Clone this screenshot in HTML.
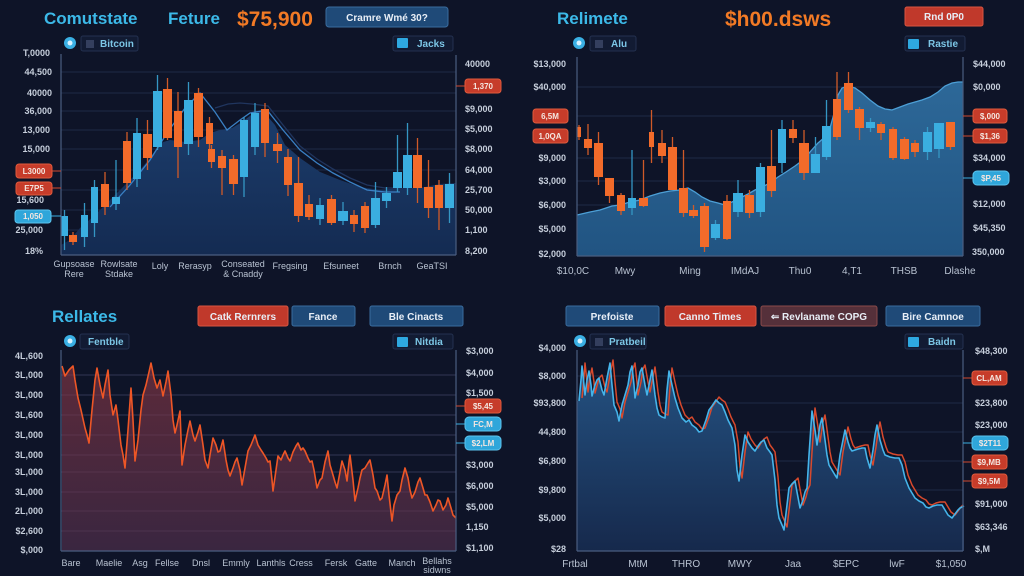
<!DOCTYPE html>
<html><head><meta charset="utf-8"><style>
html,body{margin:0;padding:0;background:#0e1428;}
svg{display:block;}
text{font-family:"Liberation Sans",sans-serif;}
.tk{font-size:9px;fill:#c6cedb;font-weight:bold;}
.xl{font-size:9px;fill:#b9c3d2;}
.pt{font-size:8px;fill:#f4e6e0;font-weight:bold;}
.bt{font-size:10px;fill:#e8eef6;font-weight:bold;}
.lg{font-size:10px;fill:#7cc6e6;font-weight:bold;}
.ttl{font-size:17px;font-weight:bold;fill:#3cb9e8;}
.big{font-size:21px;font-weight:bold;fill:#f27a25;}
.grid line{stroke:#1e2a46;stroke-width:1;}
.grid2 line{stroke:rgba(150,110,150,0.18);stroke-width:1;}
.co rect{fill:#f26b2a;} .co line{stroke:#d05a28;stroke-width:1.3;}
.cc rect{fill:#3aaee0;} .cc line{stroke:#3596c4;stroke-width:1.3;}
</style></head><body>
<svg width="1024" height="576" viewBox="0 0 1024 576" xmlns="http://www.w3.org/2000/svg">
<defs>
<linearGradient id="gTL" x1="0" y1="0" x2="0" y2="1"><stop offset="0" stop-color="#1c3d6c"/><stop offset="1" stop-color="#142b52"/></linearGradient>
<linearGradient id="gTR" x1="0" y1="0" x2="0" y2="1"><stop offset="0" stop-color="#2d6898"/><stop offset="1" stop-color="#215482"/></linearGradient>
<linearGradient id="gBL" x1="0" y1="0" x2="0" y2="1"><stop offset="0" stop-color="#5c2a3a"/><stop offset="1" stop-color="#3a2640"/></linearGradient>
<linearGradient id="gBR" x1="0" y1="0" x2="0" y2="1"><stop offset="0" stop-color="#245282"/><stop offset="1" stop-color="#16294c"/></linearGradient>
</defs>
<rect width="1024" height="576" fill="#0e1428"/>

<!-- ================= TOP LEFT ================= -->
<text x="44" y="24" class="ttl">Comutstate</text>
<text x="168" y="24" class="ttl">Feture</text>
<text x="237" y="26" class="big">$75,900</text>
<rect x="326" y="7" width="122" height="20" rx="3" fill="#1f4a78" stroke="#3a6c9e"/>
<text x="387" y="21" class="bt" text-anchor="middle">Cramre Wmé 30?</text>

<circle cx="70" cy="43" r="6" fill="#3ab0e4"/><circle cx="70" cy="43" r="2.5" fill="#d8f2ff"/>
<rect x="81" y="36" width="57" height="15" rx="2" fill="#121b33" stroke="#243150"/>
<rect x="86" y="40" width="8" height="8" fill="#343f5e"/>
<text x="100" y="47" class="lg">Bitcoin</text>
<rect x="393" y="36" width="60" height="15" rx="2" fill="#121b33" stroke="#243150"/>
<rect x="397" y="38" width="11" height="10" rx="1" fill="#2ea8e0"/>
<text x="417" y="47" class="lg">Jacks</text>

<g class="grid">
<line x1="61" y1="72" x2="456" y2="72"/><line x1="61" y1="93" x2="456" y2="93"/><line x1="61" y1="111" x2="456" y2="111"/>
<line x1="61" y1="130" x2="456" y2="130"/><line x1="61" y1="149" x2="456" y2="149"/><line x1="61" y1="170" x2="456" y2="170"/>
<line x1="61" y1="190" x2="456" y2="190"/><line x1="61" y1="210" x2="456" y2="210"/><line x1="61" y1="230" x2="456" y2="230"/>
</g>
<polygon fill="url(#gTL)" points="61,245 70,240 80,228 95,215 110,200 120,190 130,180 140,170 150,158 160,143 170,140 185,142 200,140 210,133 220,130 232,128 242,122 255,112 262,110 275,125 285,145 300,158 320,172 340,180 360,187 380,190 400,188 420,188 440,184 456,183 456,255 61,255"/>
<polyline fill="none" stroke="#3a80c4" stroke-width="1.3" points="110,207 130,185 150,160 167,133 185,108 200,93 215,112 227,130 240,120 250,113 267,110 283,130 300,150 317,163 333,173 350,182 367,190 385,192 400,192"/>
<polyline fill="none" stroke="#20355e" stroke-width="1.3" points="215,108 228,104 240,103 252,104 268,106 283,125 300,146 317,159 333,169 350,178 367,185 385,188 400,188"/>

<g class="cc">
<line x1="64.5" y1="210" x2="64.5" y2="250"/><rect x="61" y="216" width="7" height="20"/>
<line x1="84.5" y1="203" x2="84.5" y2="247"/><rect x="81" y="215" width="7" height="22"/>
<line x1="94.5" y1="180" x2="94.5" y2="237"/><rect x="91" y="187" width="7" height="36"/>
<line x1="116" y1="160" x2="116" y2="210"/><rect x="112" y="197" width="8" height="7"/>
<line x1="137" y1="118" x2="137" y2="187"/><rect x="133" y="133" width="8" height="46"/>
<line x1="157.5" y1="75" x2="157.5" y2="150"/><rect x="153" y="91" width="9" height="56"/>
<line x1="188.5" y1="82" x2="188.5" y2="155"/><rect x="184" y="100" width="9" height="44"/>
<line x1="244" y1="117" x2="244" y2="197"/><rect x="240" y="120" width="8" height="57"/>
<line x1="255" y1="103" x2="255" y2="155"/><rect x="251" y="113" width="8" height="34"/>
<line x1="320" y1="198" x2="320" y2="225"/><rect x="316" y="205" width="8" height="14"/>
<line x1="343" y1="202" x2="343" y2="225"/><rect x="338" y="211" width="10" height="10"/>
<line x1="375.5" y1="182" x2="375.5" y2="228"/><rect x="371" y="198" width="9" height="27"/>
<line x1="386.5" y1="187" x2="386.5" y2="208"/><rect x="382" y="193" width="9" height="8"/>
<line x1="397.5" y1="135" x2="397.5" y2="192"/><rect x="393" y="172" width="9" height="16"/>
<line x1="407.5" y1="123" x2="407.5" y2="195"/><rect x="403" y="155" width="9" height="33"/>
<line x1="449.5" y1="173" x2="449.5" y2="223"/><rect x="445" y="184" width="9" height="24"/>
</g>
<g class="co">
<line x1="73" y1="232" x2="73" y2="245"/><rect x="69" y="235" width="8" height="7"/>
<line x1="105" y1="172" x2="105" y2="215"/><rect x="101" y="184" width="8" height="23"/>
<line x1="127" y1="132" x2="127" y2="190"/><rect x="123" y="141" width="8" height="42"/>
<line x1="147.5" y1="120" x2="147.5" y2="170"/><rect x="143" y="134" width="9" height="24"/>
<line x1="167.5" y1="78" x2="167.5" y2="140"/><rect x="163" y="89" width="9" height="49"/>
<line x1="178" y1="92" x2="178" y2="178"/><rect x="174" y="111" width="8" height="36"/>
<line x1="198.5" y1="88" x2="198.5" y2="147"/><rect x="194" y="93" width="9" height="44"/>
<line x1="209.5" y1="117" x2="209.5" y2="152"/><rect x="206" y="123" width="7" height="21"/>
<line x1="211.5" y1="145" x2="211.5" y2="168"/><rect x="208" y="149" width="7" height="13"/>
<line x1="222" y1="150" x2="222" y2="195"/><rect x="218" y="156" width="8" height="12"/>
<line x1="233.5" y1="155" x2="233.5" y2="195"/><rect x="229" y="159" width="9" height="25"/>
<line x1="265" y1="103" x2="265" y2="157"/><rect x="261" y="109" width="8" height="34"/>
<line x1="277.5" y1="133" x2="277.5" y2="163"/><rect x="273" y="144" width="9" height="7"/>
<line x1="288" y1="149" x2="288" y2="196"/><rect x="284" y="157" width="8" height="28"/>
<line x1="298.5" y1="157" x2="298.5" y2="222"/><rect x="294" y="183" width="9" height="33"/>
<line x1="309" y1="195" x2="309" y2="220"/><rect x="305" y="204" width="8" height="13"/>
<line x1="331.5" y1="195" x2="331.5" y2="225"/><rect x="327" y="199" width="9" height="24"/>
<line x1="354" y1="210" x2="354" y2="232"/><rect x="350" y="215" width="8" height="9"/>
<line x1="365" y1="202" x2="365" y2="233"/><rect x="361" y="206" width="8" height="22"/>
<line x1="417.5" y1="138" x2="417.5" y2="203"/><rect x="413" y="155" width="9" height="33"/>
<line x1="428.5" y1="160" x2="428.5" y2="218"/><rect x="424" y="187" width="9" height="21"/>
<line x1="439" y1="180" x2="439" y2="230"/><rect x="435" y="185" width="8" height="23"/>
</g>

<g stroke="#4a5d80" stroke-width="1.2">
<line x1="61" y1="54" x2="61" y2="255"/><line x1="61" y1="255" x2="456" y2="255"/><line x1="456" y1="55" x2="456" y2="255"/>
</g>
<g class="tk" text-anchor="end">
<text x="50" y="56">T,0000</text><text x="52" y="75">44,500</text><text x="52" y="96">40000</text>
<text x="52" y="114">36,000</text><text x="50" y="133">13,000</text><text x="50" y="152">15,000</text>
<text x="44" y="203">15,600</text><text x="43" y="233">25,000</text><text x="43" y="254">18%</text>
</g>
<g class="tk">
<text x="465" y="67">40000</text><text x="465" y="112">$9,000</text><text x="465" y="132">$5,000</text>
<text x="465" y="152">$8,000</text><text x="465" y="173">64,000</text><text x="465" y="193">25,700</text>
<text x="465" y="213">50,000</text><text x="465" y="233">1,100</text><text x="465" y="254">8,200</text>
</g>
<line x1="52" y1="171" x2="61" y2="171" stroke="#d24a30"/><rect x="16" y="164" width="36" height="14" rx="3" fill="#c63c2a" stroke="#e05a3c"/><text x="34" y="174" class="pt" text-anchor="middle">L3000</text>
<line x1="52" y1="188" x2="61" y2="188" stroke="#d24a30"/><rect x="16" y="182" width="36" height="13" rx="3" fill="#c63c2a" stroke="#e05a3c"/><text x="34" y="191" class="pt" text-anchor="middle">E7P5</text>
<line x1="51" y1="216" x2="61" y2="216" stroke="#3aaee0"/><rect x="15" y="210" width="36" height="13" rx="3" fill="#2fa6da" stroke="#5cc4ee"/><text x="33" y="219" class="pt" text-anchor="middle">1,050</text>
<line x1="456" y1="86" x2="465" y2="86" stroke="#d24a30"/><rect x="465" y="79" width="36" height="14" rx="3" fill="#c63c2a" stroke="#e05a3c"/><text x="483" y="89" class="pt" text-anchor="middle">1,370</text>
<g class="xl" text-anchor="middle">
<text x="74" y="267">Gupsoase</text><text x="74" y="277">Rere</text>
<text x="119" y="267">Rowlsate</text><text x="119" y="277">Stdake</text>
<text x="160" y="269">Loly</text><text x="195" y="269">Rerasyp</text>
<text x="243" y="267">Conseated</text><text x="243" y="277">&amp; Cnaddy</text>
<text x="290" y="269">Fregsing</text><text x="341" y="269">Efsuneet</text>
<text x="390" y="269">Brnch</text><text x="432" y="269">GeaTSI</text>
</g>

<!-- ================= TOP RIGHT ================= -->
<text x="557" y="24" class="ttl">Relimete</text>
<text x="725" y="26" class="big">$h00.dsws</text>
<rect x="905" y="7" width="78" height="19" rx="2" fill="#c0392b" stroke="#d85540"/>
<text x="944" y="20" class="bt" text-anchor="middle">Rnd 0P0</text>
<circle cx="579" cy="43" r="6" fill="#3ab0e4"/><circle cx="579" cy="43" r="2.5" fill="#d8f2ff"/>
<rect x="590" y="36" width="46" height="15" rx="2" fill="#121b33" stroke="#243150"/>
<rect x="595" y="40" width="8" height="8" fill="#343f5e"/>
<text x="611" y="47" class="lg">Alu</text>
<rect x="905" y="36" width="60" height="15" rx="2" fill="#121b33" stroke="#243150"/>
<rect x="908" y="39" width="11" height="10" rx="1" fill="#2ea8e0"/>
<text x="928" y="47" class="lg">Rastie</text>

<g class="grid">
<line x1="577" y1="87" x2="963" y2="87"/><line x1="577" y1="116" x2="963" y2="116"/><line x1="577" y1="158" x2="963" y2="158"/>
<line x1="577" y1="181" x2="963" y2="181"/><line x1="577" y1="205" x2="963" y2="205"/><line x1="577" y1="229" x2="963" y2="229"/>
</g>
<polygon fill="url(#gTR)" points="577,215 590,212 600,210 612,206 620,205 630,202 640,200 650,196 660,193 670,191 680,190 688,188 695,192 702,197 710,201 718,203 725,205 732,202 740,198 748,194 755,190 762,187 770,183 778,177 786,172 795,166 803,160 810,152 818,143 825,137 830,128 835,110 838,95 842,88 848,86 855,88 862,93 870,100 878,106 885,109 892,110 900,107 908,104 915,102 922,100 930,97 938,92 945,86 952,83 958,82 963,82 963,256 577,256"/>
<polyline fill="none" stroke="#4c9fd6" stroke-width="1.3" points="577,215 590,212 600,210 612,206 620,205 630,202 640,200 650,196 660,193 670,191 680,190 688,188 695,192 702,197 710,201 718,203 725,205 732,202 740,198 748,194 755,190 762,187 770,183 778,177 786,172 795,166 803,160 810,152 818,143 825,137 830,128 835,110 838,95 842,88 848,86 855,88 862,93 870,100 878,106 885,109 892,110 900,107 908,104 915,102 922,100 930,97 938,92 945,86 952,83 958,82 963,82"/>
<g class="co">
<line x1="579" y1="125" x2="579" y2="140"/><rect x="577" y="127" width="4" height="10"/>
<line x1="588" y1="124" x2="588" y2="155"/><rect x="584" y="139" width="8" height="9"/>
<line x1="598.5" y1="132" x2="598.5" y2="185"/><rect x="594" y="143" width="9" height="34"/>
<line x1="609.5" y1="178" x2="609.5" y2="203"/><rect x="605" y="178" width="9" height="18"/>
<line x1="621" y1="193" x2="621" y2="215"/><rect x="617" y="195" width="8" height="16"/>
<line x1="643.5" y1="160" x2="643.5" y2="207"/><rect x="639" y="198" width="9" height="8"/>
<line x1="651.5" y1="110" x2="651.5" y2="163"/><rect x="649" y="132" width="5" height="15"/>
<line x1="662" y1="130" x2="662" y2="163"/><rect x="658" y="143" width="8" height="13"/>
<line x1="672.5" y1="137" x2="672.5" y2="190"/><rect x="668" y="147" width="9" height="43"/>
<line x1="683.5" y1="150" x2="683.5" y2="217"/><rect x="679" y="188" width="9" height="25"/>
<line x1="693.5" y1="205" x2="693.5" y2="218"/><rect x="689" y="210" width="9" height="6"/>
<line x1="704.5" y1="203" x2="704.5" y2="252"/><rect x="700" y="206" width="9" height="41"/>
<line x1="727" y1="195" x2="727" y2="240"/><rect x="723" y="201" width="8" height="38"/>
<line x1="749.5" y1="190" x2="749.5" y2="218"/><rect x="745" y="195" width="9" height="18"/>
<line x1="771.5" y1="130" x2="771.5" y2="197"/><rect x="767" y="166" width="9" height="25"/>
<line x1="793" y1="120" x2="793" y2="143"/><rect x="789" y="129" width="8" height="9"/>
<line x1="804" y1="130" x2="804" y2="180"/><rect x="799" y="143" width="10" height="30"/>
<line x1="837" y1="72" x2="837" y2="140"/><rect x="833" y="99" width="8" height="38"/>
<line x1="848.5" y1="72" x2="848.5" y2="113"/><rect x="844" y="83" width="9" height="27"/>
<line x1="859.5" y1="107" x2="859.5" y2="140"/><rect x="855" y="109" width="9" height="19"/>
<line x1="881" y1="122" x2="881" y2="140"/><rect x="877" y="124" width="8" height="9"/>
<line x1="893" y1="127" x2="893" y2="160"/><rect x="889" y="129" width="8" height="29"/>
<line x1="904.5" y1="137" x2="904.5" y2="160"/><rect x="900" y="139" width="9" height="20"/>
<line x1="915" y1="140" x2="915" y2="157"/><rect x="911" y="143" width="8" height="9"/>
<line x1="950.5" y1="122" x2="950.5" y2="150"/><rect x="946" y="122" width="9" height="25"/>
</g>
<g class="cc">
<line x1="632" y1="150" x2="632" y2="215"/><rect x="628" y="198" width="8" height="10"/>
<line x1="715.5" y1="220" x2="715.5" y2="240"/><rect x="711" y="224" width="9" height="14"/>
<line x1="738" y1="180" x2="738" y2="217"/><rect x="733" y="193" width="10" height="19"/>
<line x1="760.5" y1="163" x2="760.5" y2="217"/><rect x="756" y="167" width="9" height="45"/>
<line x1="782" y1="120" x2="782" y2="173"/><rect x="778" y="129" width="8" height="34"/>
<line x1="815.5" y1="137" x2="815.5" y2="173"/><rect x="811" y="154" width="9" height="19"/>
<line x1="826.5" y1="100" x2="826.5" y2="160"/><rect x="822" y="126" width="9" height="31"/>
<line x1="870.5" y1="118" x2="870.5" y2="132"/><rect x="866" y="122" width="9" height="6"/>
<line x1="927.5" y1="127" x2="927.5" y2="160"/><rect x="923" y="132" width="9" height="20"/>
<line x1="939" y1="123" x2="939" y2="158"/><rect x="934" y="123" width="10" height="26"/>
</g>
<g stroke="#4a5d80" stroke-width="1.2">
<line x1="577" y1="57" x2="577" y2="256"/><line x1="577" y1="256" x2="963" y2="256"/><line x1="963" y1="57" x2="963" y2="256"/>
</g>
<g class="tk" text-anchor="end">
<text x="566" y="67">$13,000</text><text x="566" y="90">$40,000</text><text x="566" y="161">$9,000</text>
<text x="566" y="184">$3,000</text><text x="566" y="208">$6,000</text><text x="566" y="232">$5,000</text><text x="566" y="257">$2,000</text>
</g>
<g class="tk">
<text x="973" y="67">$44,000</text><text x="973" y="90">$0,000</text><text x="973" y="161">$34,000</text>
<text x="973" y="207">$12,000</text><text x="973" y="231">$45,350</text><text x="972" y="255">350,000</text>
</g>
<rect x="533" y="109" width="35" height="14" rx="3" fill="#c63c2a" stroke="#e05a3c"/><text x="550" y="119" class="pt" text-anchor="middle">6,5M</text>
<rect x="533" y="129" width="35" height="14" rx="3" fill="#c63c2a" stroke="#e05a3c"/><text x="550" y="139" class="pt" text-anchor="middle">1,0QA</text>
<line x1="963" y1="116" x2="973" y2="116" stroke="#d24a30"/><rect x="973" y="109" width="34" height="14" rx="3" fill="#c63c2a" stroke="#e05a3c"/><text x="990" y="119" class="pt" text-anchor="middle">$,000</text>
<line x1="963" y1="136" x2="973" y2="136" stroke="#d24a30"/><rect x="973" y="129" width="34" height="14" rx="3" fill="#c63c2a" stroke="#e05a3c"/><text x="990" y="139" class="pt" text-anchor="middle">$1,36</text>
<line x1="963" y1="178" x2="973" y2="178" stroke="#3aaee0"/><rect x="973" y="171" width="36" height="14" rx="4" fill="#2fa6da" stroke="#5cc4ee"/><text x="991" y="181" class="pt" text-anchor="middle">$P,45</text>
<g class="xl" text-anchor="middle" style="font-size:10px">
<text x="573" y="274">$10,0C</text><text x="625" y="274">Mwy</text><text x="690" y="274">Ming</text><text x="745" y="274">IMdAJ</text>
<text x="800" y="274">Thu0</text><text x="852" y="274">4,T1</text><text x="904" y="274">THSB</text><text x="960" y="274">Dlashe</text>
</g>

<!-- ================= BOTTOM LEFT ================= -->
<text x="52" y="322" class="ttl">Rellates</text>
<rect x="198" y="306" width="90" height="20" rx="2" fill="#c0392b" stroke="#d85540"/><text x="243" y="320" class="bt" text-anchor="middle">Catk Rernrers</text>
<rect x="292" y="306" width="63" height="20" rx="2" fill="#1f4a78" stroke="#3a6c9e"/><text x="323" y="320" class="bt" text-anchor="middle">Fance</text>
<rect x="370" y="306" width="93" height="20" rx="2" fill="#1f4a78" stroke="#3a6c9e"/><text x="416" y="320" class="bt" text-anchor="middle">Ble Cinacts</text>
<circle cx="70" cy="341" r="6" fill="#3ab0e4"/><circle cx="70" cy="341" r="2.5" fill="#d8f2ff"/>
<rect x="80" y="334" width="49" height="15" rx="2" fill="#121b33" stroke="#243150"/>
<text x="88" y="345" class="lg">Fentble</text>
<rect x="393" y="334" width="60" height="15" rx="2" fill="#121b33" stroke="#243150"/>
<rect x="397" y="337" width="11" height="10" rx="1" fill="#2ea8e0"/>
<text x="415" y="345" class="lg">Nitdia</text>
<g class="grid">
<line x1="61" y1="375" x2="456" y2="375"/><line x1="61" y1="395" x2="456" y2="395"/><line x1="61" y1="415" x2="456" y2="415"/>
<line x1="61" y1="435" x2="456" y2="435"/><line x1="61" y1="455" x2="456" y2="455"/><line x1="61" y1="472" x2="456" y2="472"/>
<line x1="61" y1="492" x2="456" y2="492"/><line x1="61" y1="511" x2="456" y2="511"/><line x1="61" y1="531" x2="456" y2="531"/>
</g>
<polygon fill="url(#gBL)" points="62,366 65,376 69,370 73,366 75,380 78,398 81,410 85,428 87,435 89,443 92,410 95,380 97,368 100,385 103,398 105,385 108,370 110,395 113,415 116,405 118,420 121,445 123,455 125,468 128,430 131,388 133,420 135,461 138,440 141,410 143,395 146,385 149,372 151,363 154,378 157,388 160,380 163,396 166,382 168,371 171,395 173,420 175,433 177,425 180,411 182,465 185,445 188,430 190,421 193,435 195,441 198,432 200,425 203,445 205,460 208,468 210,455 213,438 216,445 218,452 220,451 223,440 226,460 228,470 230,476 233,468 235,462 237,458 240,470 242,485 245,468 248,451 251,445 253,440 255,435 258,445 261,450 263,453 266,458 268,462 270,461 272,480 273,491 276,470 278,456 281,460 283,455 285,451 288,458 290,461 293,452 296,446 298,443 301,450 303,448 305,451 308,458 310,462 312,461 314,470 317,488 320,480 322,478 325,462 328,451 330,465 333,475 335,482 337,488 340,472 342,461 345,470 347,481 349,462 350,455 353,480 355,501 358,488 360,478 362,470 365,468 368,463 370,460 373,475 375,488 377,491 380,500 382,498 385,485 387,475 389,495 392,521 394,505 397,495 400,491 402,480 405,468 408,478 410,490 412,498 415,492 418,482 420,478 423,488 425,495 427,495 430,502 433,511 436,505 438,500 440,501 443,510 446,505 448,498 451,508 453,515 456,518 456,551 62,551"/>
<g class="grid2">
<line x1="61" y1="375" x2="456" y2="375"/><line x1="61" y1="395" x2="456" y2="395"/><line x1="61" y1="415" x2="456" y2="415"/>
<line x1="61" y1="435" x2="456" y2="435"/><line x1="61" y1="455" x2="456" y2="455"/><line x1="61" y1="472" x2="456" y2="472"/>
<line x1="61" y1="492" x2="456" y2="492"/><line x1="61" y1="511" x2="456" y2="511"/><line x1="61" y1="531" x2="456" y2="531"/>
</g>
<polyline fill="none" stroke="#ee5626" stroke-width="1.6" stroke-linejoin="round" points="62,366 65,376 69,370 73,366 75,380 78,398 81,410 85,428 87,435 89,443 92,410 95,380 97,368 100,385 103,398 105,385 108,370 110,395 113,415 116,405 118,420 121,445 123,455 125,468 128,430 131,388 133,420 135,461 138,440 141,410 143,395 146,385 149,372 151,363 154,378 157,388 160,380 163,396 166,382 168,371 171,395 173,420 175,433 177,425 180,411 182,465 185,445 188,430 190,421 193,435 195,441 198,432 200,425 203,445 205,460 208,468 210,455 213,438 216,445 218,452 220,451 223,440 226,460 228,470 230,476 233,468 235,462 237,458 240,470 242,485 245,468 248,451 251,445 253,440 255,435 258,445 261,450 263,453 266,458 268,462 270,461 272,480 273,491 276,470 278,456 281,460 283,455 285,451 288,458 290,461 293,452 296,446 298,443 301,450 303,448 305,451 308,458 310,462 312,461 314,470 317,488 320,480 322,478 325,462 328,451 330,465 333,475 335,482 337,488 340,472 342,461 345,470 347,481 349,462 350,455 353,480 355,501 358,488 360,478 362,470 365,468 368,463 370,460 373,475 375,488 377,491 380,500 382,498 385,485 387,475 389,495 392,521 394,505 397,495 400,491 402,480 405,468 408,478 410,490 412,498 415,492 418,482 420,478 423,488 425,495 427,495 430,502 433,511 436,505 438,500 440,501 443,510 446,505 448,498 451,508 453,515 456,518"/>
<g stroke="#4a5d80" stroke-width="1.2">
<line x1="61" y1="350" x2="61" y2="551"/><line x1="61" y1="551" x2="456" y2="551"/><line x1="456" y1="350" x2="456" y2="551"/>
</g>
<g class="tk" text-anchor="end">
<text x="43" y="359">4L,600</text><text x="43" y="378">3L,000</text><text x="43" y="398">3L,000</text><text x="43" y="418">3L,600</text>
<text x="43" y="438">3L,000</text><text x="43" y="458">3L,000</text><text x="43" y="475">3L,000</text><text x="43" y="495">3L,000</text>
<text x="43" y="514">2L,000</text><text x="43" y="534">$2,600</text><text x="43" y="553">$,000</text>
</g>
<g class="tk">
<text x="466" y="354">$3,000</text><text x="466" y="376">$4,000</text><text x="466" y="396">$1,500</text>
<text x="466" y="468">$3,000</text><text x="466" y="489">$6,000</text><text x="466" y="510">$5,000</text>
<text x="466" y="530">1,150</text><text x="466" y="551">$1,100</text>
</g>
<line x1="456" y1="406" x2="465" y2="406" stroke="#d24a30"/><rect x="465" y="399" width="36" height="14" rx="3" fill="#c63c2a" stroke="#e05a3c"/><text x="483" y="409" class="pt" text-anchor="middle">$5,45</text>
<line x1="456" y1="424" x2="465" y2="424" stroke="#3aaee0"/><rect x="465" y="417" width="36" height="14" rx="4" fill="#2fa6da" stroke="#5cc4ee"/><text x="483" y="427" class="pt" text-anchor="middle">FC,M</text>
<line x1="456" y1="443" x2="465" y2="443" stroke="#3aaee0"/><rect x="465" y="436" width="36" height="14" rx="4" fill="#2fa6da" stroke="#5cc4ee"/><text x="483" y="446" class="pt" text-anchor="middle">$2,LM</text>
<g class="xl" text-anchor="middle">
<text x="71" y="566">Bare</text><text x="109" y="566">Maelie</text><text x="140" y="566">Asg</text><text x="167" y="566">Fellse</text>
<text x="201" y="566">Dnsl</text><text x="236" y="566">Emmly</text><text x="271" y="566">Lanthls</text><text x="301" y="566">Cress</text>
<text x="336" y="566">Fersk</text><text x="366" y="566">Gatte</text><text x="402" y="566">Manch</text><text x="437" y="564">Bellahs</text><text x="437" y="573">sidwns</text>
</g>

<!-- ================= BOTTOM RIGHT ================= -->
<rect x="566" y="306" width="93" height="20" rx="2" fill="#1f4a78" stroke="#3a6c9e"/><text x="612" y="320" class="bt" text-anchor="middle">Prefoiste</text>
<rect x="665" y="306" width="91" height="20" rx="2" fill="#c0392b" stroke="#d85540"/><text x="710" y="320" class="bt" text-anchor="middle">Canno Times</text>
<rect x="761" y="306" width="116" height="20" rx="2" fill="#55303a" stroke="#8a4a4a"/><text x="819" y="320" class="bt" text-anchor="middle">⇐ Revlaname COPG</text>
<rect x="886" y="306" width="94" height="20" rx="2" fill="#1f4a78" stroke="#3a6c9e"/><text x="933" y="320" class="bt" text-anchor="middle">Bire Camnoe</text>
<circle cx="580" cy="341" r="6" fill="#3ab0e4"/><circle cx="580" cy="341" r="2.5" fill="#d8f2ff"/>
<rect x="590" y="334" width="56" height="15" rx="2" fill="#121b33" stroke="#243150"/>
<rect x="595" y="338" width="8" height="8" fill="#343f5e"/>
<text x="609" y="345" class="lg">Pratbeil</text>
<rect x="905" y="334" width="58" height="15" rx="2" fill="#121b33" stroke="#243150"/>
<rect x="908" y="337" width="11" height="10" rx="1" fill="#2ea8e0"/>
<text x="928" y="345" class="lg">Baidn</text>
<g class="grid">
<line x1="577" y1="376" x2="963" y2="376"/><line x1="577" y1="403" x2="963" y2="403"/><line x1="577" y1="432" x2="963" y2="432"/>
<line x1="577" y1="461" x2="963" y2="461"/><line x1="577" y1="490" x2="963" y2="490"/><line x1="577" y1="518" x2="963" y2="518"/>
</g>
<polygon fill="url(#gBR)" points="579,401 581,380 582,366 584,385 585,395 587,380 589,371 591,385 592,396 595,385 597,380 599,378 602,390 604,395 607,378 610,363 612,385 614,405 617,412 619,421 622,405 625,395 628,385 630,372 632,366 634,385 635,398 638,385 640,372 642,368 645,385 647,395 650,380 652,370 655,395 657,408 659,415 662,417 665,418 667,390 669,371 672,385 675,398 678,408 682,418 686,422 689,420 692,425 696,428 699,432 702,431 706,420 709,410 712,406 716,400 719,403 722,405 725,412 728,420 732,428 735,445 737,470 739,481 742,455 745,435 748,442 752,448 755,451 758,446 761,442 764,440 767,448 770,452 772,455 775,480 777,505 779,518 782,525 784,530 787,505 789,488 792,484 795,481 797,492 800,508 803,500 805,492 807,488 809,455 812,411 815,430 817,445 820,425 822,418 825,440 827,455 829,465 832,470 835,475 837,478 840,455 843,440 845,430 848,442 850,448 852,451 855,450 858,449 862,448 865,448 867,458 870,468 873,450 875,435 877,425 880,440 883,450 885,455 890,457 895,458 899,458 902,465 905,478 909,488 912,493 915,498 919,501 923,503 926,507 929,508 933,506 937,505 942,505 945,510 948,515 952,518 955,514 958,510 960,508 964,506 964,551 577,551 577,401"/>
<polyline transform="translate(3,-3)" fill="none" stroke="#d8492c" stroke-width="1.5" stroke-linejoin="round" points="579,401 581,380 582,366 584,385 585,395 587,380 589,371 591,385 592,396 595,385 597,380 599,378 602,390 604,395 607,378 610,363 612,385 614,405 617,412 619,421 622,405 625,395 628,385 630,372 632,366 634,385 635,398 638,385 640,372 642,368 645,385 647,395 650,380 652,370 655,395 657,408 659,415 662,417 665,418 667,390 669,371 672,385 675,398 678,408 682,418 686,422 689,420 692,425 696,428 699,432 702,431 706,420 709,410 712,406 716,400 719,403 722,405 725,412 728,420 732,428 735,445 737,470 739,481 742,455 745,435 748,442 752,448 755,451 758,446 761,442 764,440 767,448 770,452 772,455 775,480 777,505 779,518 782,525 784,530 787,505 789,488 792,484 795,481 797,492 800,508 803,500 805,492 807,488 809,455 812,411 815,430 817,445 820,425 822,418 825,440 827,455 829,465 832,470 835,475 837,478 840,455 843,440 845,430 848,442 850,448 852,451 855,450 858,449 862,448 865,448 867,458 870,468 873,450 875,435 877,425 880,440 883,450 885,455 890,457 895,458 899,458 902,465 905,478 909,488 912,493 915,498 919,501 923,503 926,507 929,508 933,506 937,505 942,505 945,510 948,515 952,518 955,514 958,510 960,508"/>
<polyline fill="none" stroke="#45b4ea" stroke-width="1.6" stroke-linejoin="round" points="579,401 581,380 582,366 584,385 585,395 587,380 589,371 591,385 592,396 595,385 597,380 599,378 602,390 604,395 607,378 610,363 612,385 614,405 617,412 619,421 622,405 625,395 628,385 630,372 632,366 634,385 635,398 638,385 640,372 642,368 645,385 647,395 650,380 652,370 655,395 657,408 659,415 662,417 665,418 667,390 669,371 672,385 675,398 678,408 682,418 686,422 689,420 692,425 696,428 699,432 702,431 706,420 709,410 712,406 716,400 719,403 722,405 725,412 728,420 732,428 735,445 737,470 739,481 742,455 745,435 748,442 752,448 755,451 758,446 761,442 764,440 767,448 770,452 772,455 775,480 777,505 779,518 782,525 784,530 787,505 789,488 792,484 795,481 797,492 800,508 803,500 805,492 807,488 809,455 812,411 815,430 817,445 820,425 822,418 825,440 827,455 829,465 832,470 835,475 837,478 840,455 843,440 845,430 848,442 850,448 852,451 855,450 858,449 862,448 865,448 867,458 870,468 873,450 875,435 877,425 880,440 883,450 885,455 890,457 895,458 899,458 902,465 905,478 909,488 912,493 915,498 919,501 923,503 926,507 929,508 933,506 937,505 942,505 945,510 948,515 952,518 955,514 958,510 960,508 964,506"/>
<g stroke="#4a5d80" stroke-width="1.2">
<line x1="577" y1="350" x2="577" y2="551"/><line x1="577" y1="551" x2="963" y2="551"/><line x1="963" y1="350" x2="963" y2="551"/>
</g>
<g class="tk" text-anchor="end">
<text x="566" y="351">$4,000</text><text x="566" y="379">$8,000</text><text x="566" y="406">$93,800</text>
<text x="566" y="435">44,800</text><text x="566" y="464">$6,800</text><text x="566" y="493">$9,800</text>
<text x="566" y="521">$5,000</text><text x="566" y="552">$28</text>
</g>
<g class="tk">
<text x="975" y="354">$48,300</text><text x="975" y="406">$23,800</text><text x="975" y="428">$23,000</text>
<text x="975" y="507">$91,000</text><text x="975" y="530">$63,346</text><text x="975" y="552">$,M</text>
</g>
<line x1="963" y1="378" x2="972" y2="378" stroke="#d24a30"/><rect x="972" y="371" width="35" height="14" rx="3" fill="#c63c2a" stroke="#e05a3c"/><text x="989" y="381" class="pt" text-anchor="middle">CL,AM</text>
<line x1="963" y1="443" x2="972" y2="443" stroke="#3aaee0"/><rect x="972" y="436" width="36" height="14" rx="4" fill="#2fa6da" stroke="#5cc4ee"/><text x="990" y="446" class="pt" text-anchor="middle">$2T11</text>
<line x1="963" y1="462" x2="972" y2="462" stroke="#d24a30"/><rect x="972" y="455" width="35" height="14" rx="3" fill="#c63c2a" stroke="#e05a3c"/><text x="989" y="465" class="pt" text-anchor="middle">$9,MB</text>
<line x1="963" y1="481" x2="972" y2="481" stroke="#d24a30"/><rect x="972" y="474" width="35" height="14" rx="3" fill="#c63c2a" stroke="#e05a3c"/><text x="989" y="484" class="pt" text-anchor="middle">$9,5M</text>
<g class="xl" text-anchor="middle" style="font-size:10px">
<text x="575" y="567">Frtbal</text><text x="638" y="567">MtM</text><text x="686" y="567">THRO</text><text x="740" y="567">MWY</text>
<text x="793" y="567">Jaa</text><text x="846" y="567">$EPC</text><text x="897" y="567">lwF</text><text x="951" y="567">$1,050</text>
</g>
</svg>
</body></html>
